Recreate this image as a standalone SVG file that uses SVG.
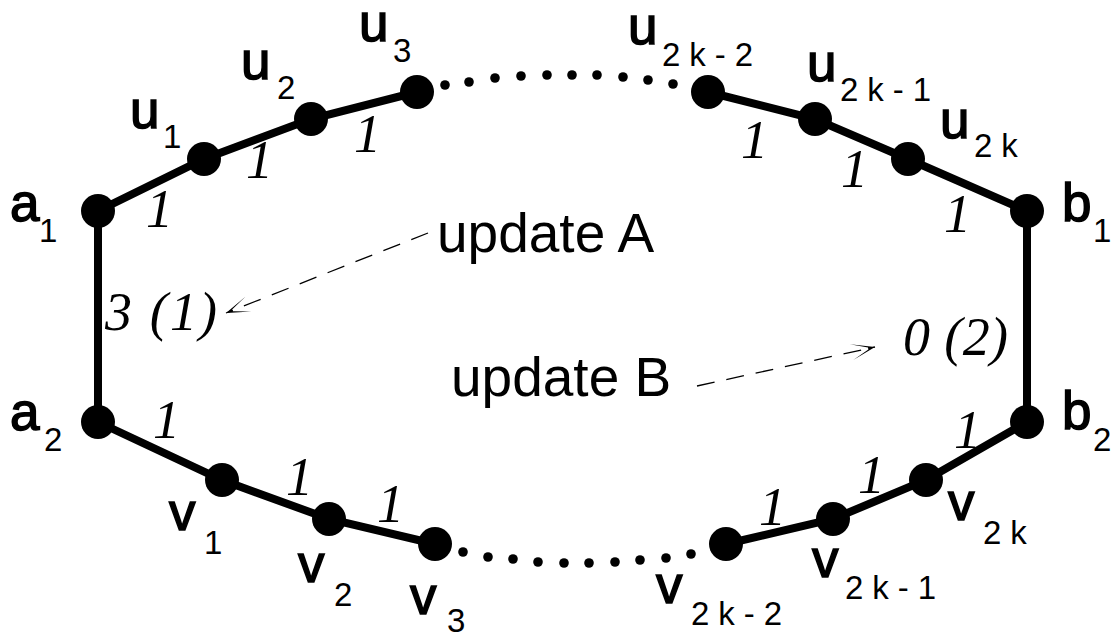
<svg xmlns="http://www.w3.org/2000/svg" width="1114" height="640" viewBox="0 0 1114 640">
<style>
.edge{stroke:#000;stroke-width:8;fill:none;stroke-linecap:round}
.node{fill:#000}
.dot{fill:#000}
.lbl{font-family:"Liberation Sans",Arial,sans-serif;font-size:53px;fill:#000;stroke:#000;stroke-width:1.5}
.sub{font-family:"Liberation Sans",Arial,sans-serif;font-size:33px;fill:#000}
.ls{letter-spacing:9px}
.w{font-family:"Liberation Serif","Times New Roman",serif;font-style:italic;font-size:54px;fill:#000}
.upd{font-family:"Liberation Sans",Arial,sans-serif;font-size:55px;fill:#000}
.dash{stroke:#000;stroke-width:1.3;fill:none;stroke-dasharray:18 12}
</style>
<defs>
<marker id="ah" markerUnits="userSpaceOnUse" markerWidth="30" markerHeight="20" viewBox="-26 -10 30 20" refX="0" refY="0" orient="auto">
<path d="M0,0 L-24,-8 L-7,-1 L-7,1 L-24,8 Z" fill="#000"/>
</marker>
</defs>
<rect width="1114" height="640" fill="#fff"/>
<g id="connectors">
<polyline class="edge" points="98,422 98,211 204,159 311,119 417,92"/>
<polyline class="edge" points="708,92 815,119 908,159 1027,211 1027,422 926,480 833,519 726,544"/>
<polyline class="edge" points="98,422 222,480 329,519 435,544"/>
<g id="dots-top">
<circle class="dot" cx="445" cy="85" r="4.8"/><circle class="dot" cx="469" cy="82" r="4.8"/><circle class="dot" cx="495" cy="78" r="4.8"/><circle class="dot" cx="521" cy="76" r="4.8"/><circle class="dot" cx="547" cy="75" r="4.8"/><circle class="dot" cx="572" cy="75" r="4.8"/><circle class="dot" cx="597" cy="75" r="4.8"/><circle class="dot" cx="623" cy="77" r="4.8"/><circle class="dot" cx="648" cy="80" r="4.8"/><circle class="dot" cx="673" cy="84" r="4.8"/>
</g>
<g id="dots-bottom">
<circle class="dot" cx="463" cy="552" r="4.8"/><circle class="dot" cx="488" cy="557" r="4.8"/><circle class="dot" cx="513" cy="559" r="4.8"/><circle class="dot" cx="538" cy="562" r="4.8"/><circle class="dot" cx="564" cy="563" r="4.8"/><circle class="dot" cx="589" cy="563" r="4.8"/><circle class="dot" cx="615" cy="562" r="4.8"/><circle class="dot" cx="640" cy="560" r="4.8"/><circle class="dot" cx="666" cy="558" r="4.8"/><circle class="dot" cx="691" cy="554" r="4.8"/>
</g>
<line class="dash" x1="428" y1="233" x2="226" y2="313" marker-end="url(#ah)"/>
<line class="dash" x1="697" y1="386" x2="875" y2="347" marker-end="url(#ah)"/>
<g id="weights">
<text class="w" x="146" y="227">1</text>
<text class="w" x="246" y="178">1</text>
<text class="w" x="354" y="152">1</text>
<text class="w" x="741" y="158">1</text>
<text class="w" x="841" y="187">1</text>
<text class="w" x="944" y="232">1</text>
<text class="w" x="105" y="330" textLength="112">3 (1)</text>
<text class="w" x="903" y="355" textLength="105">0 (2)</text>
<text class="w" x="153" y="438">1</text>
<text class="w" x="286" y="495">1</text>
<text class="w" x="377" y="522">1</text>
<text class="w" x="759" y="525">1</text>
<text class="w" x="858" y="493">1</text>
<text class="w" x="954" y="448">1</text>
</g>
</g>
<g id="update-A"><text class="upd" x="437" y="252">update A</text></g>
<g id="update-B"><text class="upd" x="451" y="396">update B</text></g>
<g id="a1"><circle class="node" cx="98" cy="211" r="17"/><text class="lbl" x="10" y="221">a</text><text class="sub" x="39" y="242">1</text></g>
<g id="u1"><circle class="node" cx="204" cy="159" r="17"/><text class="lbl" x="130" y="128">u</text><text class="sub" x="163" y="148">1</text></g>
<g id="u2"><circle class="node" cx="311" cy="119" r="17"/><text class="lbl" x="241" y="79">u</text><text class="sub" x="277" y="99">2</text></g>
<g id="u3"><circle class="node" cx="417" cy="92" r="17"/><text class="lbl" x="359" y="41">u</text><text class="sub" x="393" y="62">3</text></g>
<g id="u2k-2"><circle class="node" cx="708" cy="92" r="17"/><text class="lbl" x="628" y="44">u</text><text class="sub ls" x="662" y="66">2k-2</text></g>
<g id="u2k-1"><circle class="node" cx="815" cy="119" r="17"/><text class="lbl" x="807" y="81">u</text><text class="sub ls" x="840" y="101">2k-1</text></g>
<g id="u2k"><circle class="node" cx="908" cy="159" r="17"/><text class="lbl" x="940" y="138">u</text><text class="sub ls" x="974" y="157">2k</text></g>
<g id="b1"><circle class="node" cx="1027" cy="211" r="17"/><text class="lbl" x="1062" y="221">b</text><text class="sub" x="1093" y="242">1</text></g>
<g id="a2"><circle class="node" cx="98" cy="422" r="17"/><text class="lbl" x="10" y="430">a</text><text class="sub" x="44" y="451">2</text></g>
<g id="v1"><circle class="node" cx="222" cy="480" r="17"/><text class="lbl" x="169" y="530">v</text><text class="sub" x="204" y="554">1</text></g>
<g id="v2"><circle class="node" cx="329" cy="519" r="17"/><text class="lbl" x="298" y="582">v</text><text class="sub" x="334" y="606">2</text></g>
<g id="v3"><circle class="node" cx="435" cy="544" r="17"/><text class="lbl" x="410" y="614">v</text><text class="sub" x="447" y="632">3</text></g>
<g id="v2k-2"><circle class="node" cx="726" cy="544" r="17"/><text class="lbl" x="656" y="603">v</text><text class="sub ls" x="691" y="625">2k-2</text></g>
<g id="v2k-1"><circle class="node" cx="833" cy="519" r="17"/><text class="lbl" x="812" y="577">v</text><text class="sub ls" x="845" y="599">2k-1</text></g>
<g id="v2k"><circle class="node" cx="926" cy="480" r="17"/><text class="lbl" x="948" y="520">v</text><text class="sub ls" x="983" y="544">2k</text></g>
<g id="b2"><circle class="node" cx="1027" cy="422" r="17"/><text class="lbl" x="1062" y="429">b</text><text class="sub" x="1093" y="451">2</text></g>
</svg>
